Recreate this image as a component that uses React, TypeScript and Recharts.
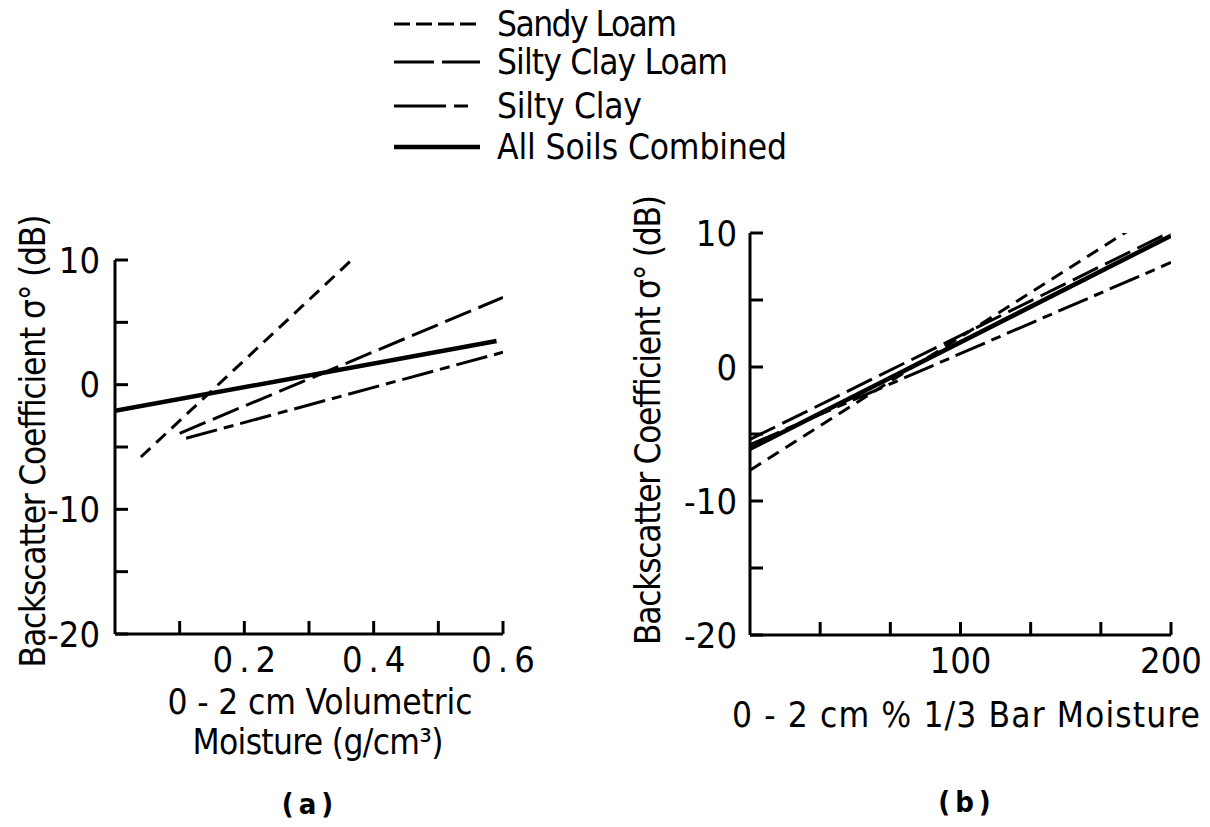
import React from 'react';
import { LineChart, Line, XAxis, YAxis } from 'recharts';

// ---------- data ----------
const seriesNames = ['Sandy Loam', 'Silty Clay Loam', 'Silty Clay', 'All Soils Combined'];

// panel (a): x = 0-2 cm volumetric moisture (g/cm3), y = backscatter (dB)
const aSandyLoam = [{ x: 0.04, y: -5.8 }, { x: 0.37, y: 10.2 }];
const aSiltyClayLoam = [{ x: 0.10, y: -3.9 }, { x: 0.60, y: 7.0 }];
const aSiltyClay = [{ x: 0.11, y: -4.3 }, { x: 0.60, y: 2.6 }];
const aAllSoils = [{ x: 0.0, y: -2.1 }, { x: 0.59, y: 3.5 }];

// panel (b): x = 0-2 cm % 1/3 bar moisture, y = backscatter (dB)
const bSandyLoam = [{ x: 0, y: -7.7 }, { x: 181, y: 10.3 }];
const bSiltyClayLoam = [{ x: 0, y: -5.4 }, { x: 200, y: 10.1 }];
const bSiltyClay = [{ x: 0, y: -5.8 }, { x: 200, y: 7.8 }];
const bAllSoils = [{ x: 0, y: -6.1 }, { x: 200, y: 9.8 }];

const yTicks = [-20, -15, -10, -5, 0, 5, 10];
const yTickLabels = ['-20', '', '-10', '', '0', '', '10'];
const aXTicks = [0, 0.1, 0.2, 0.3, 0.4, 0.5, 0.6];
const aXTickLabels = ['', '', '0.2', '', '0.4', '', '0.6'];
const bXTicks = [0, 33.33, 66.67, 100, 133.33, 166.67, 200];
const bXTickLabels = ['', '', '', '100', '', '', '200'];

// ---------- styles ----------
const FONT = "'Liberation Sans Narrow', 'DejaVu Sans Condensed', 'DejaVu Sans', sans-serif";
const dashes = ['13 8', '28 8', '32 7 10 7', undefined];
const widths = [3, 3, 3, 4.5];
const legendDashes = ['16 6', '40 8', '52 8 14 40', undefined];

const findIdx = (ticks: number[], v: number) => {
  let best = 0;
  ticks.forEach((t, i) => { if (Math.abs(t - v) < Math.abs(ticks[best] - v)) best = i; });
  return best;
};

const makeYTick = (gap: number) => (props: any) => {
  const { x, y, payload } = props;
  const label = yTickLabels[findIdx(yTicks, payload.value)];
  return (
    <g>
      <line x1={x} x2={x + 13} y1={y} y2={y} stroke="#000" strokeWidth={3} />
      {label ? (
        <text x={x - gap} y={y} textAnchor="end" dominantBaseline="central"
          fontFamily={FONT} fontSize={36} fill="#000">{label}</text>
      ) : null}
    </g>
  );
};

const makeXTick = (ticks: number[], labels: string[], spacing: number) => (props: any) => {
  const { x, y, payload } = props;
  const i = findIdx(ticks, payload.value);
  const label = labels[i];
  return (
    <g>
      {i > 0 ? <line x1={x} x2={x} y1={y} y2={y - 13} stroke="#000" strokeWidth={3} /> : null}
      {label ? (
        <text x={x + spacing / 2} y={y + 25} textAnchor="middle" dominantBaseline="central"
          fontFamily={FONT} fontSize={36} letterSpacing={spacing} fill="#000">{label}</text>
      ) : null}
    </g>
  );
};

const axisLine = { stroke: '#000', strokeWidth: 3 };

const Panel = ({ left, width, margin, xDomain, xTicks, xTick, yGap, series }: any) => (
  <div style={{ position: 'absolute', left, top: 0 }}>
    <LineChart width={width} height={827} margin={margin}>
      <XAxis type="number" dataKey="x" domain={xDomain} ticks={xTicks} allowDataOverflow
        axisLine={axisLine} tickLine={false} tickSize={0} tickMargin={0} height={40}
        tick={xTick} interval={0} />
      <YAxis type="number" dataKey="y" domain={[-20, 10]} ticks={yTicks} allowDataOverflow
        axisLine={axisLine} tickLine={false} tickSize={0} tickMargin={0} width={60}
        tick={makeYTick(yGap)} interval={0} />
      {series.map((d: any, i: number) => (
        <Line key={seriesNames[i]} name={seriesNames[i]} data={d} dataKey="y" type="linear"
          stroke="#000" strokeWidth={widths[i]} strokeDasharray={dashes[i]}
          dot={false} activeDot={false} isAnimationActive={false} />
      ))}
    </LineChart>
  </div>
);

const legendRows = [24, 62, 106, 147];
const legendTextLen = [180, 231, 145, 290];

export default function App() {
  return (
    <div style={{ position: 'absolute', left: 0, top: 0, width: 1210, height: 827, background: '#fff', overflow: 'hidden' }}>
      <Panel left={0} width={560}
        margin={{ top: 260, right: 57, bottom: 153, left: 55 }}
        xDomain={[0, 0.6]} xTicks={aXTicks}
        xTick={makeXTick(aXTicks, aXTickLabels, 6)} yGap={15}
        series={[aSandyLoam, aSiltyClayLoam, aSiltyClay, aAllSoils]} />
      <Panel left={600} width={610}
        margin={{ top: 233, right: 39, bottom: 152, left: 90 }}
        xDomain={[0, 200]} xTicks={bXTicks}
        xTick={makeXTick(bXTicks, bXTickLabels, 0)} yGap={13}
        series={[bSandyLoam, bSiltyClayLoam, bSiltyClay, bAllSoils]} />
      <svg width={1210} height={827} style={{ position: 'absolute', left: 0, top: 0, pointerEvents: 'none' }}>
        {/* legend */}
        {seriesNames.map((n, i) => (
          <g key={n}>
            <line x1={394} x2={480} y1={legendRows[i]} y2={legendRows[i]} stroke="#000"
              strokeWidth={widths[i]} strokeDasharray={legendDashes[i]} />
            <text x={497} y={legendRows[i]} dominantBaseline="central" fontFamily={FONT}
              fontSize={35} textLength={legendTextLen[i]} lengthAdjust="spacing" fill="#000">{n}</text>
          </g>
        ))}
        {/* panel (a) titles */}
        <text transform="translate(33,441) rotate(-90)" textAnchor="middle" dominantBaseline="central"
          fontFamily={FONT} fontSize={35} textLength={453} lengthAdjust="spacing" fill="#000">Backscatter Coefficient σ° (dB)</text>
        <text x={320} y={702} textAnchor="middle" dominantBaseline="central" fontFamily={FONT}
          fontSize={35} textLength={305} lengthAdjust="spacing" fill="#000">0 - 2 cm Volumetric</text>
        <text x={318} y={742} textAnchor="middle" dominantBaseline="central" fontFamily={FONT}
          fontSize={35} textLength={251} lengthAdjust="spacing" fill="#000">Moisture (g/cm³)</text>
        <text x={310} y={804} textAnchor="middle" dominantBaseline="central" fontFamily={FONT}
          fontSize={29} fontWeight="bold" letterSpacing={5} fill="#000">(a)</text>
        {/* panel (b) titles */}
        <text transform="translate(648,420) rotate(-90)" textAnchor="middle" dominantBaseline="central"
          fontFamily={FONT} fontSize={35} textLength={450} lengthAdjust="spacing" fill="#000">Backscatter Coefficient σ° (dB)</text>
        <text x={966} y={715} textAnchor="middle" dominantBaseline="central" fontFamily={FONT}
          fontSize={35} textLength={468} lengthAdjust="spacing" fill="#000">0 - 2 cm % 1/3 Bar Moisture</text>
        <text x={967} y={802} textAnchor="middle" dominantBaseline="central" fontFamily={FONT}
          fontSize={29} fontWeight="bold" letterSpacing={5} fill="#000">(b)</text>
      </svg>
    </div>
  );
}
